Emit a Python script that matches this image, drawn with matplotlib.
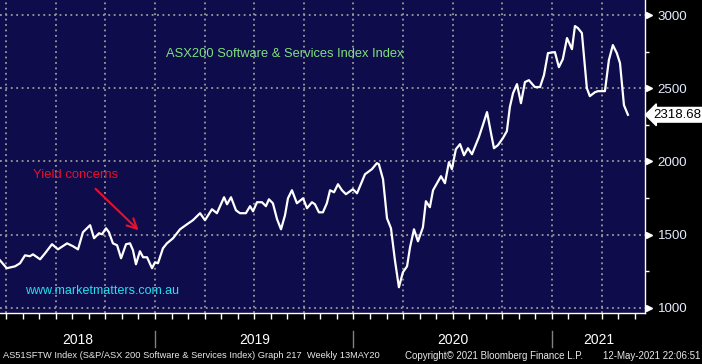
import numpy as np
import matplotlib.pyplot as plt
from matplotlib.transforms import blended_transform_factory

plt.rcParams['font.family'] = ['Liberation Sans', 'DejaVu Sans']

# ==================== data (weekly closes, decimal years) ====================
dates = [2018.219, 2018.253, 2018.295, 2018.320, 2018.345, 2018.370, 2018.385, 2018.421, 2018.446, 2018.481,
         2018.511, 2018.557, 2018.587, 2018.612, 2018.637, 2018.673, 2018.693, 2018.718, 2018.733, 2018.753,
         2018.768, 2018.788, 2018.809, 2018.829, 2018.854, 2018.874, 2018.889, 2018.904, 2018.924, 2018.940,
         2018.960, 2018.985, 2019.000, 2019.015,
         2019.040, 2019.060, 2019.091, 2019.126, 2019.161, 2019.191, 2019.227, 2019.252, 2019.287, 2019.312,
         2019.348, 2019.363, 2019.383, 2019.408, 2019.428, 2019.458, 2019.479, 2019.494, 2019.514, 2019.539,
         2019.559, 2019.574, 2019.594, 2019.615, 2019.635, 2019.655, 2019.670, 2019.690, 2019.715, 2019.746,
         2019.766, 2019.791, 2019.806, 2019.826, 2019.846, 2019.866, 2019.882, 2019.902, 2019.922, 2019.942,
         2019.962, 2019.997, 2020.018, 2020.058, 2020.093, 2020.118, 2020.128, 2020.149, 2020.169, 2020.189,
         2020.209, 2020.229, 2020.249, 2020.270, 2020.285, 2020.305, 2020.325, 2020.350, 2020.365, 2020.385,
         2020.401, 2020.441, 2020.461, 2020.481, 2020.496, 2020.516, 2020.537, 2020.557, 2020.577, 2020.597,
         2020.632, 2020.652, 2020.673, 2020.693, 2020.708, 2020.728, 2020.753, 2020.773, 2020.788, 2020.804,
         2020.824, 2020.844, 2020.864, 2020.884,
         2020.914, 2020.940, 2020.960, 2020.980, 2021.015, 2021.035, 2021.055, 2021.076, 2021.101, 2021.116,
         2021.131, 2021.151, 2021.176, 2021.191, 2021.217, 2021.232, 2021.267, 2021.287, 2021.307, 2021.327,
         2021.343, 2021.363, 2021.383]

values = [1324, 1270, 1283, 1304, 1358, 1352, 1365, 1331, 1372, 1434,
          1399, 1440, 1420, 1399, 1516, 1564, 1475, 1509, 1502, 1543,
          1516, 1440, 1427, 1338, 1434, 1440, 1393, 1297, 1386, 1345,
          1345, 1270, 1311, 1304,
          1406, 1440, 1475, 1536, 1570, 1598, 1646, 1598, 1673, 1646,
          1755, 1707, 1755, 1666, 1646, 1646, 1694, 1659, 1721, 1721,
          1694, 1741, 1714, 1605, 1536, 1632, 1748, 1803, 1714, 1748,
          1680, 1721, 1707, 1652, 1652, 1714, 1803, 1789, 1844, 1803,
          1776, 1810, 1782, 1912, 1947, 1988, 1981, 1878, 1611, 1543,
          1324, 1140, 1242, 1283, 1413, 1536, 1454, 1550, 1728, 1687,
          1803, 1899, 1851, 1995, 1947, 2083, 2118, 2042, 2090, 2049,
          2166, 2248, 2337, 2193, 2090, 2111, 2159, 2207, 2371, 2466,
          2528, 2398, 2542, 2555,
          2508, 2508, 2590, 2740, 2747, 2644, 2699, 2843, 2767, 2925,
          2911, 2877, 2501, 2446, 2473, 2480, 2480, 2692, 2795, 2740,
          2672, 2384, 2318.68]

years = [2018, 2019, 2020, 2021]
y_ticks = [1000, 1500, 2000, 2500, 3000]
last_value = 2318.68

title = "ASX200 Software & Services Index Index"
note = "Yield concerns"
website = "www.marketmatters.com.au"
footer_left = "AS51SFTW Index (S&P/ASX 200 Software & Services Index) Graph 217  Weekly 13MAY20"
footer_mid = "Copyright\u00a9 2021 Bloomberg Finance L.P."
footer_right = "12-May-2021 22:06:51"

# ==================== figure ====================
bg = '#0e0c4a'
fig = plt.figure(figsize=(7.02, 3.64), dpi=100, facecolor='black')
ax = fig.add_axes([0, 51 / 364, 645 / 702, 313 / 364])
ax.set_facecolor(bg)

xmin, xmax = 2018.219, 2021.469
ax.set_xlim(xmin, xmax)
ax.set_ylim(964, 3103)

ax.plot(dates, values, color='white', lw=1.6, zorder=3)

# grid: quarters vertically, 500 steps horizontally
quarters = np.arange(2018.25, 2021.5, 0.25)
months = np.arange(2018.25, 2021.47, 1 / 12)
ax.set_xticks(quarters)
ax.set_xticks(months, minor=True)
ax.set_xticklabels([])
ax.tick_params(axis='x', which='both', direction='out', length=4, width=1, colors='white')

ax.yaxis.tick_right()
ax.set_yticks(y_ticks)
ax.set_yticks(np.arange(1250, 3100, 500), minor=True)
ax.set_yticklabels([str(v) for v in y_ticks])
ax.tick_params(axis='y', which='major', length=0, pad=9, labelsize=9.6, labelcolor='#e6ecff')
ax.tick_params(axis='y', which='minor', length=3, width=1, colors='white')

ax.grid(True, which='major', color='#9a9a9a', lw=1.3, linestyle=(0, (1, 2)))
ax.set_axisbelow(True)

for s in ['left', 'top']:
    ax.spines[s].set_visible(False)
for s in ['bottom', 'right']:
    ax.spines[s].set_color('white')
    ax.spines[s].set_linewidth(1)

# triangle markers at the major right ticks
tr_right = blended_transform_factory(ax.transAxes, ax.transData)
ax.plot([1.006] * len(y_ticks), y_ticks, ls='none', marker='>', ms=5, color='white',
        transform=tr_right, clip_on=False, zorder=5)

# last value box
ax.text(1.0125, last_value, f'{last_value:.2f}', transform=tr_right, ha='left', va='center',
        fontsize=9.5, color='black', clip_on=False,
        bbox=dict(boxstyle='larrow,pad=0.1', fc='white', ec='white'))

# annotations
ax.text(0.257, 0.8275, title, transform=ax.transAxes, color='#7fe07f', fontsize=9.3, va='center')
ax.text(0.051, 0.441, note, transform=ax.transAxes, color='#e8112d', fontsize=9.4, va='center')
ax.annotate('', xy=(0.218, 0.258), xytext=(0.145, 0.403), xycoords='axes fraction',
            arrowprops=dict(arrowstyle='->,head_length=0.7,head_width=0.35', color='#e8112d', lw=1.5))
ax.text(0.039, 0.0703, website, transform=ax.transAxes, color='#1ee3f0', fontsize=9, va='center')

# year labels and separators below the axis
tr_fig = blended_transform_factory(ax.transData, fig.transFigure)
for y in years:
    a, b = max(y, xmin), min(y + 1, xmax)
    fig.text((a + b) / 2, 24 / 364, str(y), transform=tr_fig, ha='center', va='center',
             color='white', fontsize=10)
for y in years[1:]:
    ax.plot([y, y], [17 / 364, 33 / 364], color='#808080', lw=1, transform=tr_fig, clip_on=False)

# footer
fig.text(3 / 702, 8 / 364, footer_left, color='#e8e8e8', fontsize=6.7, va='center', ha='left')
fig.text(405 / 702, 8 / 364, footer_mid, color='#e8e8e8', fontsize=7, va='center', ha='left')
fig.text(700 / 702, 8 / 364, footer_right, color='#e8e8e8', fontsize=7, va='center', ha='right')

fig.savefig('out.png', dpi=100, facecolor='black')
